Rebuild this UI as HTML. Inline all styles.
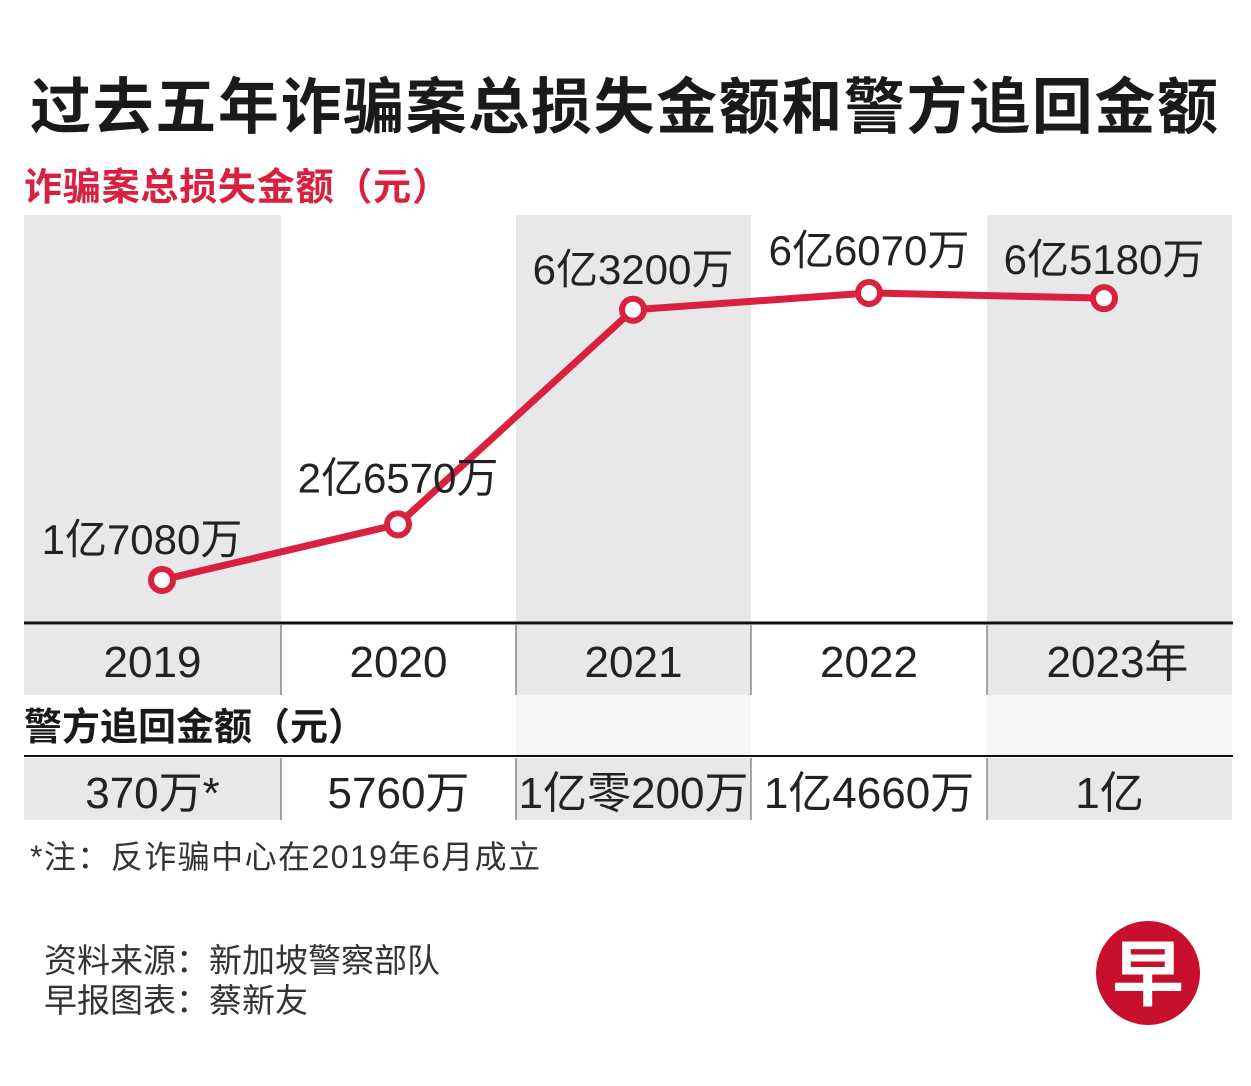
<!DOCTYPE html>
<html><head><meta charset="utf-8"><style>
body{margin:0;width:1251px;height:1081px;background:#fff;overflow:hidden;font-family:"Liberation Sans","Noto Sans CJK SC",sans-serif;}
svg text{font-family:"Liberation Sans Narrow","Liberation Sans","Noto Sans CJK SC",sans-serif;}
.cjk{font-family:"Liberation Sans","Noto Sans CJK SC",sans-serif;}
</style></head><body>
<svg id="c" width="1251" height="1081">
<text class="cjk" x="624" y="128" text-anchor="middle" font-size="61" font-weight="bold" fill="#1a1a1a" textLength="1188">过去五年诈骗案总损失金额和警方追回金额</text>
<text class="cjk" x="24" y="200" font-size="38" font-weight="bold" fill="#d9213f" textLength="426">诈骗案总损失金额（元）</text>
<g id="bg"></g>
<line x1="24" y1="623" x2="1233" y2="623" stroke="#111" stroke-width="3"/>
<line x1="24" y1="756" x2="1233" y2="756" stroke="#111" stroke-width="2"/>
<text class="cjk" x="24" y="740" font-size="38" font-weight="bold" fill="#1a1a1a" textLength="342">警方追回金额（元）</text>
<g id="marks"></g>
<text class="cjk" x="30" y="868" font-size="32" fill="#333" textLength="510">*注：反诈骗中心在2019年6月成立</text>
<text class="cjk" x="44" y="972" font-size="33" fill="#333" textLength="396">资料来源：新加坡警察部队</text>
<text class="cjk" x="44" y="1012" font-size="33" fill="#333" textLength="264">早报图表：蔡新友</text>
<g>
<circle cx="1148" cy="973" r="52" fill="#c8102e"/>
<text class="cjk" x="1148" y="1000" text-anchor="middle" font-size="72" font-weight="bold" fill="#fff">早</text>
</g>
</svg>
<script>
const years=["2019","2020","2021","2022","2023年"];
const lossValues=[17080,26570,63200,66070,65180];
const lossLabels=["1亿7080万","2亿6570万","6亿3200万","6亿6070万","6亿5180万"];
const recoveredLabels=["370万*","5760万","1亿零200万","1亿4660万","1亿"];
const NS="http://www.w3.org/2000/svg";
const colEdges=[24,281,516,751,987,1232];
const xOf=i=>[162,398,633,869,1104][i];
const yOf=v=>680-v*0.005858;
const labelDy=[-40,-46,-40,-42,-38];
const labelDx=[-20,0,0,0,0];
function mk(t,a,p){const e=document.createElementNS(NS,t);for(const k in a)e.setAttribute(k,a[k]);p.appendChild(e);return e;}
const bg=document.getElementById('bg'),marks=document.getElementById('marks');
for(let i=0;i<5;i++){
  const x=colEdges[i],w=colEdges[i+1]-x;
  if(i%2===0){
    const r=mk('rect',{x:x,y:215,width:w,height:407,fill:'#e8e8e8'},bg);
    
    
    const r2=mk('rect',{x:x,y:625,width:w,height:70,fill:'#e8e8e8'},bg);
    
    
    const r4=mk('rect',{x:x,y:758,width:w,height:62,fill:'#e8e8e8'},bg);
    
    
    if(i>0){const r3=mk('rect',{x:x,y:695,width:w,height:60,fill:'#f6f6f6'},bg);
    
    }
  }
  if(i>0){
    const l=mk('line',{x1:x,y1:625,x2:x,y2:695,stroke:'#555','stroke-width':1},bg);
    
    
    const l2=mk('line',{x1:x,y1:758,x2:x,y2:820,stroke:'#555','stroke-width':1},bg);
    
    
  }
  const cx=(colEdges[i]+colEdges[i+1])/2;
  const t=mk('text',{x:cx+(i===4?8:0),y:677,'text-anchor':'middle','font-size':44,fill:'#222'},marks);
  t.textContent=years[i];
  
  
  const t2=mk('text',{x:cx,y:808,'text-anchor':'middle','font-size':44,fill:'#222'},marks);
  t2.textContent=recoveredLabels[i];
  
  
}
const pts=lossValues.map((v,i)=>xOf(i)+','+yOf(v)).join(' ');
const pl=mk('polyline',{points:pts,fill:'none',stroke:'#d9213f','stroke-width':7,'stroke-linejoin':'round'},marks);


lossValues.forEach((v,i)=>{
  const c=mk('circle',{cx:xOf(i),cy:yOf(v),r:11,fill:'#fff',stroke:'#d9213f','stroke-width':6},marks);
  
  
  const t=mk('text',{x:xOf(i)+labelDx[i],y:yOf(v)+labelDy[i]+14,'text-anchor':'middle','font-size':42,fill:'#222'},marks);
  t.textContent=lossLabels[i];
  
  
});
</script>
</body></html>
